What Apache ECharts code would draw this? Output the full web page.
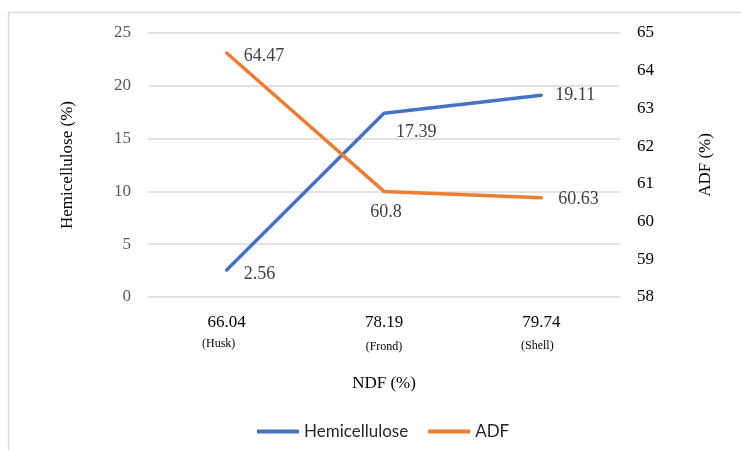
<!DOCTYPE html>
<html>
<head>
<meta charset="utf-8">
<script src="https://cdn.jsdelivr.net/npm/echarts@6/dist/echarts.min.js"></script>
<style>
  html, body { margin: 0; padding: 0; background: #fff; }
  #chart { width: 741px; height: 450px; }
</style>
</head>
<body>
<div id="chart"></div>
<script>
// NDF values with sample part names
const ndfLabels = ['66.04', '78.19', '79.74'];
const parts = ['(Husk)', '(Frond)', '(Shell)'];
// Hemicellulose (%) on the left axis, ADF (%) on the right axis
const hemicellulose = [2.56, 17.39, 19.11];
const adf = [64.47, 60.8, 60.63];

const serif = 'Liberation Serif';

// where each value label sits relative to its point
const hemiLabelPlace = [
  { position: 'right', offset: [12, 4] },
  { position: 'right', offset: [7, 19] },
  { position: 'right', offset: [9, 0] }
];
const adfLabelPlace = [
  { position: 'right', offset: [12, 3] },
  { position: 'bottom', offset: [2, 7] },
  { position: 'right', offset: [12, 1] }
];

// small nudges for the part names under each NDF value
const partPadding = [[0, 16, 0, 0], [5, 0, 0, 0], [4, 8, 0, 0]];

function withLabels(values, places) {
  return values.map((v, i) => ({ value: v, label: places[i] }));
}

const partRich = {};
partPadding.forEach((p, i) => {
  partRich['b' + i] = { fontFamily: serif, fontSize: 12, color: '#000', lineHeight: 18, padding: p };
});

const chart = echarts.init(document.getElementById('chart'));
chart.setOption({
  animation: false,
  graphic: [{
    type: 'rect',
    left: 6, top: 10,
    shape: { width: 900, height: 600 },
    style: { fill: 'none', stroke: '#d9d9d9', lineWidth: 1.5 },
    silent: true
  }],
  grid: { left: 148, right: 121, top: 33, bottom: 153 },
  legend: {
    left: 252, top: 418,
    itemWidth: 42, itemHeight: 4, itemGap: 20,
    textStyle: { fontFamily: 'Lato', fontSize: 17, color: '#262626' },
    data: [
      { name: 'Hemicellulose', icon: 'rect' },
      { name: 'ADF', icon: 'rect' }
    ]
  },
  xAxis: {
    type: 'category',
    data: ndfLabels,
    boundaryGap: true,
    axisLine: { show: false },
    axisTick: { show: false },
    axisLabel: {
      margin: 14,
      formatter: function (v, i) {
        return '{a|' + v + '}\n{b' + i + '|' + parts[i] + '}';
      },
      rich: Object.assign({
        a: { fontFamily: serif, fontSize: 17, color: '#000', lineHeight: 24 }
      }, partRich)
    },
    name: 'NDF (%)',
    nameLocation: 'middle',
    nameGap: 78,
    nameTextStyle: { fontFamily: serif, fontSize: 17, color: '#000' }
  },
  yAxis: [{
    type: 'value',
    min: 0, max: 25, interval: 5,
    axisLine: { show: false },
    axisTick: { show: false },
    splitLine: { lineStyle: { color: '#d9d9d9', width: 1.5 } },
    axisLabel: { margin: 17, fontFamily: serif, fontSize: 17, color: '#595959' },
    name: 'Hemicellulose (%)',
    nameLocation: 'middle',
    nameGap: 72,
    nameRotate: 90,
    nameTextStyle: { fontFamily: serif, fontSize: 17, color: '#000' }
  }, {
    type: 'value',
    min: 58, max: 65, interval: 1,
    position: 'right',
    axisLine: { show: false },
    axisTick: { show: false },
    splitLine: { show: false },
    axisLabel: { margin: 17, fontFamily: serif, fontSize: 17, color: '#000' },
    name: 'ADF (%)',
    nameLocation: 'middle',
    nameGap: 77,
    nameRotate: 90,
    nameTextStyle: { fontFamily: serif, fontSize: 17, color: '#000' }
  }],
  series: [{
    name: 'Hemicellulose',
    type: 'line',
    yAxisIndex: 0,
    symbol: 'circle',
    symbolSize: 0,
    showSymbol: true,
    color: '#4472C4',
    lineStyle: { width: 3.5, cap: 'round' },
    label: { show: true, fontFamily: serif, fontSize: 18, color: '#404040' },
    data: withLabels(hemicellulose, hemiLabelPlace)
  }, {
    name: 'ADF',
    type: 'line',
    yAxisIndex: 1,
    symbol: 'circle',
    symbolSize: 0,
    showSymbol: true,
    color: '#ED7D31',
    lineStyle: { width: 3.5, cap: 'round' },
    label: { show: true, fontFamily: serif, fontSize: 18, color: '#404040' },
    data: withLabels(adf, adfLabelPlace)
  }]
});
</script>
</body>
</html>
